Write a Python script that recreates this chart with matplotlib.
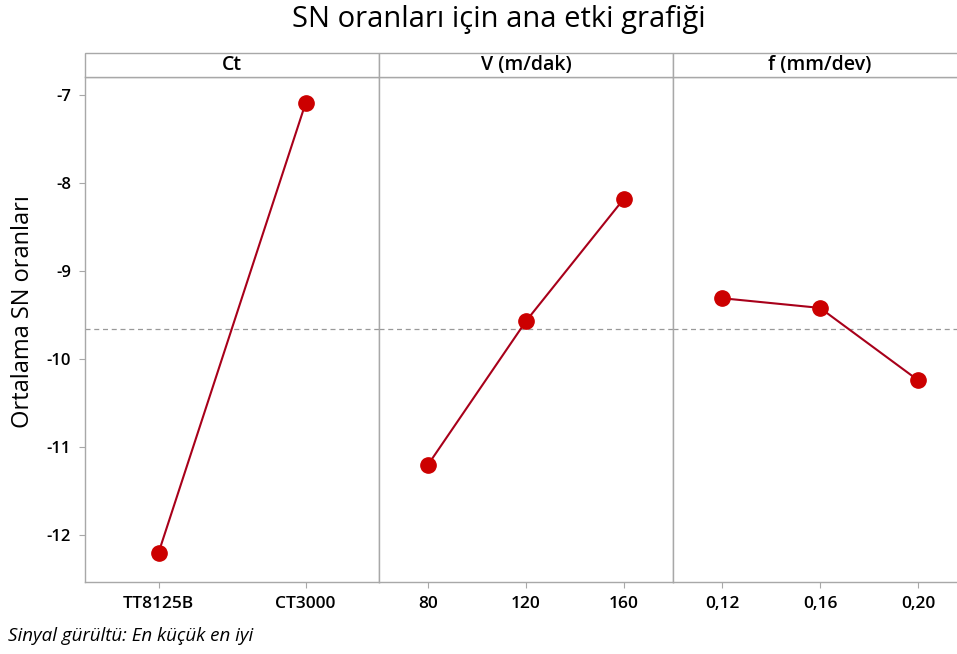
import matplotlib
matplotlib.use("Agg")
import matplotlib.pyplot as plt
from matplotlib.patches import Rectangle

# ── data ────────────────────────────────────────────────────────
factors = ["Ct", "V (m/dak)", "f (mm/dev)"]
ct_levels = ["TT8125B", "CT3000"]
ct_sn = [-12.20, -7.10]
v_levels = ["80", "120", "160"]
v_sn = [-11.20, -9.57, -8.18]
f_levels = ["0,12", "0,16", "0,20"]
f_sn = [-9.31, -9.42, -10.24]
grand_mean = -9.66
y_ticks = [-12, -11, -10, -9, -8, -7]

plt.rcParams["font.family"] = ["Open Sans", "DejaVu Sans"]

W, H = 957, 654
fig = plt.figure(figsize=(W / 100, H / 100), dpi=100)

left_px, panel_px = 85, 294
top_px, bottom_px, strip_px = 77, 582, 24
grey = "#a8a8a8"
line_col = "#a8001a"
dot_col = "#cc0000"

panels = [(ct_levels, ct_sn), (v_levels, v_sn), (f_levels, f_sn)]
for i, (name, (levels, vals)) in enumerate(zip(factors, panels)):
    x0 = (left_px + i * panel_px) / W
    ax = fig.add_axes([x0, 1 - bottom_px / H, panel_px / W, (bottom_px - top_px) / H])
    xs = list(range(len(levels)))
    ax.axhline(grand_mean, color="#999999", lw=0.9, ls=(0, (4, 3)), zorder=1)
    ax.plot(xs, vals, color=line_col, lw=1.5, zorder=2)
    ax.plot(xs, vals, "o", color=dot_col, ms=11, zorder=3)
    ax.set_xlim(-0.5, len(levels) - 0.5)
    ax.set_ylim(-12.53, -6.80)
    ax.set_xticks(xs)
    ax.set_xticklabels(levels, fontsize=12.5, fontweight="semibold")
    ax.set_yticks(y_ticks)
    if i == 0:
        ax.set_yticklabels([str(t) for t in y_ticks],
                           fontsize=12, fontweight="semibold")
        ax.set_ylabel("Ortalama SN oranları", fontsize=17)
        # label's right edge sits ~35 px from the figure's left border
        ax.yaxis.set_label_coords(-(85 - 35) / panel_px, 0.535)
    else:
        ax.tick_params(axis="y", left=False, labelleft=False)
    ax.tick_params(length=4, width=0.8, color=grey, pad=6)
    for sp in ax.spines.values():
        sp.set_color(grey)
        sp.set_linewidth(1.0)

    # strip header above each panel
    fig.patches.append(Rectangle((x0, 1 - top_px / H), panel_px / W, strip_px / H,
                                 transform=fig.transFigure, facecolor="white",
                                 edgecolor=grey, lw=1.0))
    fig.text(x0 + panel_px / W / 2, 1 - (top_px - strip_px / 2) / H, name,
             ha="center", va="center", fontsize=14, fontweight="semibold")

fig.text(0.521, 1 - 20 / H, "SN oranları için ana etki grafiği",
         ha="center", va="center", fontsize=21)
fig.text(8 / W, 1 - 636 / H, "Sinyal gürültü: En küçük en iyi",
         ha="left", va="center", fontsize=13.5, style="italic")

fig.savefig("out.png", dpi=100)
